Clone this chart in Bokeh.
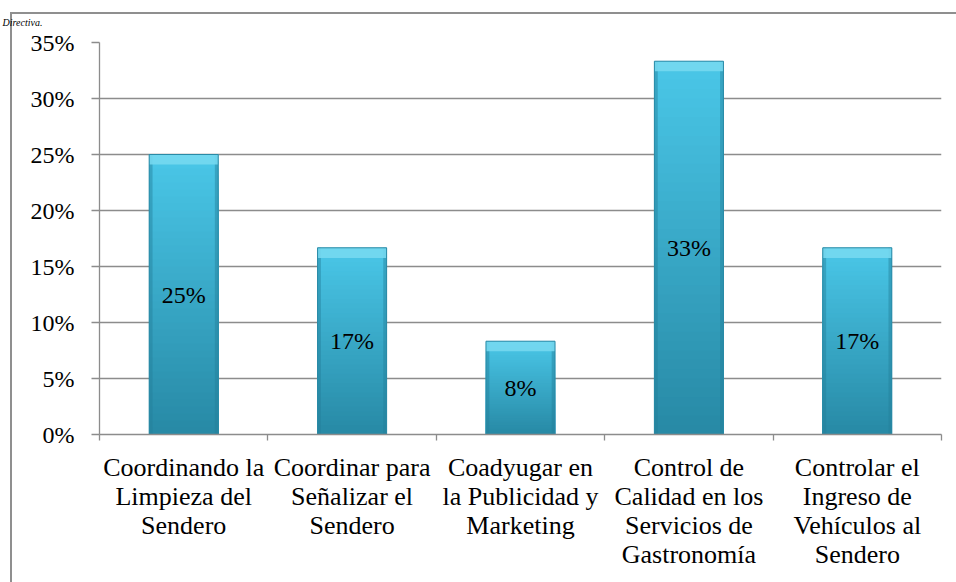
from bokeh.plotting import figure
from bokeh.models import Range1d, FixedTicker, NumeralTickFormatter
from bokeh.embed import file_html
from bokeh.resources import INLINE

categories = ["Coordinando la\nLimpieza del\nSendero",
              "Coordinar para\nSeñalizar el\nSendero",
              "Coadyugar en\nla Publicidad y\nMarketing",
              "Control de\nCalidad en los\nServicios de\nGastronomía",
              "Controlar el\nIngreso de\nVehículos al\nSendero"]
values = [0.25, 0.1667, 0.0833, 0.3333, 0.1667]
value_labels = ["25%", "17%", "8%", "33%", "17%"]
y_ticks = [0, 0.05, 0.10, 0.15, 0.20, 0.25, 0.30, 0.35]
caption = "Directiva."

FONT = "Liberation Serif, Times New Roman, serif"
W, H = 956, 582
GRAY = "#8c8c8c"

p = figure(width=W, height=H, output_backend="svg", toolbar_location=None,
           x_range=Range1d(0, len(categories)), y_range=Range1d(0, 0.35),
           min_border_left=99, min_border_right=15, min_border_top=42, min_border_bottom=148,
           title=caption)
p.outline_line_color = None
p.background_fill_color = None
p.border_fill_color = None
p.styles = {
    "background": ("linear-gradient(#8f8f8f,#8f8f8f) 10px 12px / 2px 100% no-repeat, "
                   "linear-gradient(#8f8f8f,#8f8f8f) 10px 12px / 100% 2px no-repeat, white"),
}

# caption (shrunk to fit the strip above the frame border)
p.title.text_font = FONT
p.title.text_font_style = "italic"
p.title.text_font_size = "10px"
p.title.text_color = "black"
p.title.align = "left"
p.title.offset = -97
p.title.standoff = 29

# grid
p.xgrid.grid_line_color = None
p.ygrid.grid_line_color = GRAY
p.ygrid.grid_line_width = 1.3
p.ygrid.ticker = FixedTicker(ticks=y_ticks)

# y axis
p.yaxis.ticker = FixedTicker(ticks=y_ticks)
p.yaxis.formatter = NumeralTickFormatter(format="0%")
p.yaxis.axis_line_color = GRAY
p.yaxis.axis_line_width = 1.3
p.yaxis.major_tick_line_color = GRAY
p.yaxis.major_tick_line_width = 1.3
p.yaxis.major_tick_out = 8
p.yaxis.major_tick_in = 0
p.yaxis.minor_tick_line_color = None
p.yaxis.major_label_text_font = FONT
p.yaxis.major_label_text_font_size = "24px"
p.yaxis.major_label_text_color = "black"
p.yaxis.major_label_standoff = 17

# x axis: labels at category centres, tick marks at category boundaries
xs_c = [i + 0.5 for i in range(len(categories))]
xax = p.below[0]
xax.ticker = FixedTicker(ticks=xs_c, minor_ticks=list(range(len(categories) + 1)))
xax.major_label_overrides = {x: c for x, c in zip(xs_c, categories)}
xax.axis_line_color = GRAY
xax.axis_line_width = 1.3
xax.major_tick_line_color = None
xax.major_tick_out = 6
xax.major_tick_in = 0
xax.minor_tick_line_color = GRAY
xax.minor_tick_line_width = 1.3
xax.minor_tick_out = 6
xax.minor_tick_in = 0
xax.major_label_text_font = FONT
xax.major_label_text_font_size = "26px"
xax.major_label_text_color = "black"
xax.major_label_text_line_height = 1.0
xax.major_label_standoff = 12

# bars with a simulated vertical gradient (nested quads, tallest first)
bar_w = 0.41
N = 40
top_c = (0x4a, 0xc7, 0xe8)
bot_c = (0x28, 0x8a, 0xa6)
L, R, B, T, C = [], [], [], [], []
for k in range(N, 0, -1):
    f = (k - 1) / (N - 1)
    col = "#%02x%02x%02x" % tuple(int(bot_c[j] + (top_c[j] - bot_c[j]) * f) for j in range(3))
    for xc, v in zip(xs_c, values):
        L.append(xc - bar_w / 2); R.append(xc + bar_w / 2)
        B.append(0); T.append(v * k / N)
        C.append(col)
p.quad(left=L, right=R, bottom=B, top=T, fill_color=C, line_color=None)

# side shading and top bevel
side = 0.02
bev = 0.009
lefts = [x - bar_w / 2 for x in xs_c]
rights = [x + bar_w / 2 for x in xs_c]
p.quad(left=lefts, right=[l + side for l in lefts], bottom=[0] * len(values), top=values,
       fill_color="#237f99", fill_alpha=0.45, line_color=None)
p.quad(left=[r - side for r in rights], right=rights, bottom=[0] * len(values), top=values,
       fill_color="#237f99", fill_alpha=0.45, line_color=None)
p.quad(left=lefts, right=rights, bottom=[v - bev for v in values], top=values,
       fill_color="#76d8ef", fill_alpha=0.9, line_color=None)
p.quad(left=lefts, right=rights, bottom=[0] * len(values), top=values,
       fill_color=None, line_color="#2a8aa6", line_width=1)

# value labels
p.text(x=xs_c, y=[v / 2 for v in values], text=value_labels,
       text_font={"value": FONT}, text_font_size={"value": "24px"},
       text_align="center", text_baseline="middle", text_color="black")

html = file_html(p, INLINE)
open("out.html", "w").write(html)
